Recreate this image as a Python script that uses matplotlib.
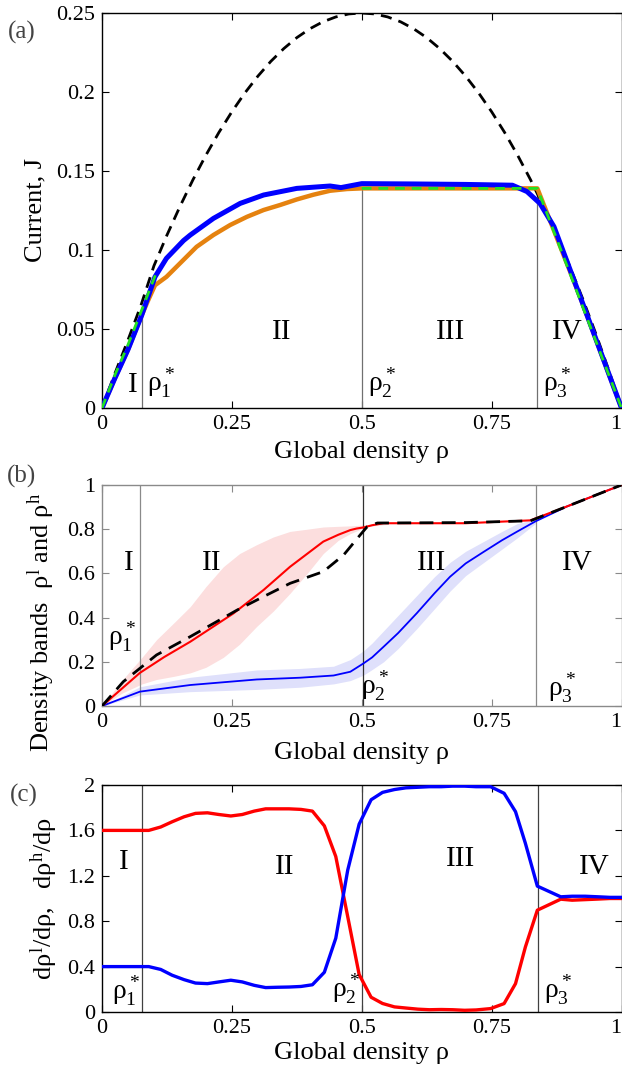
import numpy as np
import matplotlib
matplotlib.use("Agg")
import matplotlib.pyplot as plt

plt.rcParams['font.family'] = ['Liberation Serif', 'DejaVu Serif']
plt.rcParams['mathtext.fontset'] = 'custom'
plt.rcParams['mathtext.rm'] = 'Liberation Serif'
plt.rcParams['mathtext.it'] = 'Liberation Serif'
plt.rcParams['mathtext.bf'] = 'Liberation Serif:bold'

# ---------------- (a) current vs global density ----------------
rho_mf = [0.0, 0.025, 0.05, 0.075, 0.1, 0.125, 0.15, 0.175, 0.2, 0.225, 0.25, 0.275,
          0.3, 0.325, 0.35, 0.375, 0.4, 0.425, 0.45, 0.475, 0.5, 0.525, 0.55, 0.575,
          0.6, 0.625, 0.65, 0.675, 0.7, 0.725, 0.75, 0.775, 0.8, 0.825, 0.85, 0.875,
          0.9, 0.925, 0.95, 0.975, 1.0]
J_mf = [0.0, 0.022, 0.043, 0.065, 0.09, 0.1094, 0.1275, 0.1444, 0.16, 0.1744, 0.1875,
        0.1994, 0.21, 0.2194, 0.2275, 0.2344, 0.24, 0.2444, 0.2475, 0.2494, 0.25,
        0.2494, 0.2475, 0.2444, 0.24, 0.2344, 0.2275, 0.2194, 0.21, 0.1994, 0.1875,
        0.1744, 0.16, 0.1444, 0.1275, 0.1094, 0.09, 0.0694, 0.0475, 0.0244, 0.0]

rho_sim = [0.0, 0.025, 0.05, 0.0764, 0.09, 0.102, 0.124, 0.153, 0.182, 0.2145, 0.2466,
           0.279, 0.311, 0.343, 0.375, 0.407, 0.439, 0.4715, 0.5, 0.6, 0.7, 0.8, 0.838,
           0.92, 1.0]
J_sim = [0.0, 0.019, 0.037, 0.0587, 0.069, 0.0777, 0.083, 0.0925, 0.102, 0.1095, 0.1158,
         0.121, 0.1253, 0.1285, 0.132, 0.135, 0.1375, 0.1386, 0.139, 0.139, 0.139, 0.139,
         0.139, 0.0705, 0.0]

rho_mc = [0.0, 0.025, 0.05, 0.0764, 0.102, 0.124, 0.157, 0.17, 0.2145, 0.266, 0.311,
          0.375, 0.439, 0.46, 0.5, 0.6, 0.7, 0.79, 0.818, 0.843, 0.87, 0.921, 1.0]
J_mc = [0.0, 0.019, 0.037, 0.0587, 0.083, 0.0947, 0.106, 0.1095, 0.12, 0.1295, 0.1348,
        0.139, 0.1405, 0.1395, 0.142, 0.1418, 0.1415, 0.141, 0.137, 0.1295, 0.1148,
        0.0700, 0.0]

rho_th = [0.0, 0.025, 0.05, 0.0764, 0.105, np.nan, 0.5, 0.838, 1.0]
J_th = [0.0, 0.021, 0.040, 0.062, 0.086, np.nan, 0.139, 0.139, 0.0]

rho_star = [0.0764, 0.5, 0.838]
J_star = [0.0587, 0.139, 0.139]

# ---------------- (b) density bands ----------------
rho_hi = [0.0, 0.073, 0.12, 0.17, 0.253, 0.311, 0.362, 0.426, 0.455, 0.478, 0.49,
          0.5035, 0.52, 0.542, 0.7, 0.8247, 0.895, 1.0]
rho_h_line = [0.0, 0.15, 0.222, 0.291, 0.419, 0.525, 0.63, 0.744, 0.775, 0.796, 0.803,
              0.808, 0.818, 0.827, 0.827, 0.84, 0.903, 1.0]

rho_band_h = [0.0, 0.04, 0.077, 0.105, 0.14, 0.17, 0.2, 0.2335, 0.265, 0.2977, 0.33,
              0.362, 0.395, 0.426, 0.455, 0.478, 0.51, 0.55]
h_band_lo = [0.0, 0.06, 0.10, 0.12, 0.135, 0.15, 0.175, 0.22, 0.28, 0.36, 0.43, 0.51,
             0.60, 0.69, 0.75, 0.78, 0.812, 0.822]
h_band_hi = [0.0, 0.12, 0.22, 0.30, 0.38, 0.45, 0.54, 0.63, 0.69, 0.73, 0.765, 0.79,
             0.80, 0.81, 0.813, 0.815, 0.82, 0.826]

rho_lo = [0.0, 0.073, 0.17, 0.2977, 0.3815, 0.4457, 0.478, 0.5035, 0.52, 0.542, 0.57,
          0.606, 0.64, 0.67, 0.70, 0.735, 0.77, 0.799, 0.834, 0.895, 1.0]
rho_l_line = [0.0, 0.065, 0.095, 0.12, 0.128, 0.138, 0.155, 0.193, 0.22, 0.268, 0.33,
              0.42, 0.51, 0.585, 0.645, 0.698, 0.75, 0.789, 0.835, 0.903, 1.0]

rho_band_l = [0.0, 0.073, 0.17, 0.2977, 0.3815, 0.4457, 0.478, 0.5035, 0.52, 0.542,
              0.57, 0.606, 0.64, 0.67, 0.70, 0.735, 0.77, 0.799, 0.834]
l_band_lo = [0.0, 0.05, 0.065, 0.075, 0.085, 0.10, 0.115, 0.14, 0.165, 0.20, 0.26,
             0.35, 0.44, 0.52, 0.59, 0.65, 0.71, 0.76, 0.825]
l_band_hi = [0.0, 0.087, 0.13, 0.163, 0.17, 0.18, 0.21, 0.25, 0.285, 0.34, 0.41, 0.50,
             0.585, 0.65, 0.70, 0.745, 0.79, 0.825, 0.845]

rho_avg = [0.0, 0.041, 0.105, 0.17, 0.26, 0.311, 0.362, 0.426, 0.465, 0.497, 0.51,
           0.53, 0.7, 0.8247, 0.895, 1.0]
avg_line = [0.0, 0.11, 0.231, 0.314, 0.434, 0.495, 0.555, 0.608, 0.683, 0.774, 0.81,
            0.828, 0.83, 0.838, 0.903, 1.0]

rho_star_b = [0.073, 0.502, 0.835]

# ---------------- (c) slopes of the bands ----------------
rho_c = [0.0, 0.045, 0.09, 0.113, 0.135, 0.158, 0.18, 0.203, 0.225, 0.248, 0.27, 0.293,
         0.315, 0.338, 0.36, 0.383, 0.405, 0.428, 0.45, 0.473, 0.495, 0.518, 0.54,
         0.563, 0.585, 0.608, 0.63, 0.653, 0.675, 0.698, 0.72, 0.748, 0.774, 0.796,
         0.815, 0.838, 0.883, 0.905, 0.93, 0.955, 0.978, 1.0]
dh_drho = [1.6, 1.6, 1.6, 1.63, 1.676, 1.72, 1.75, 1.755, 1.74, 1.727, 1.74, 1.77, 1.79,
           1.79, 1.79, 1.785, 1.77, 1.64, 1.37, 0.84, 0.33, 0.13, 0.075, 0.045, 0.035,
           0.025, 0.02, 0.022, 0.02, 0.015, 0.018, 0.03, 0.074, 0.25, 0.573, 0.897,
           0.994, 0.985, 0.99, 0.995, 1.0, 1.0]
dl_drho = [0.4, 0.4, 0.4, 0.375, 0.324, 0.285, 0.255, 0.25, 0.265, 0.28, 0.265, 0.235,
           0.215, 0.218, 0.22, 0.225, 0.24, 0.35, 0.65, 1.25, 1.655, 1.87, 1.935, 1.96,
           1.975, 1.98, 1.985, 1.985, 1.99, 1.99, 1.985, 1.985, 1.927, 1.765, 1.486,
           1.109, 1.015, 1.02, 1.02, 1.015, 1.01, 1.01]
rho_star_c = [0.077, 0.5, 0.84]

region_names = ['I', 'II', 'III', 'IV']
star_labels = [r'$\rho_1^*$', r'$\rho_2^*$', r'$\rho_3^*$']
xticks = [0, 0.25, 0.5, 0.75, 1]
xticklabels = ['0', '0.25', '0.5', '0.75', '1']

W, H = 622, 1070
fig = plt.figure(figsize=(W / 100, H / 100), dpi=100)


def box(top, bottom, left=102, right=621.5):
    return [left / W, 1 - bottom / H, (right - left) / W, (bottom - top) / H]


TICK_FS = 16
LAB_FS = 19
ROM_FS = 21
STAR_FS = 20
PANEL_FS = 18

BLUE = '#0000ff'
RED = '#ff0000'
ORANGE = '#e5820f'
GREEN = '#22e022'


def style_axes(ax, spine_color='black'):
    ax.set_xlim(0, 1)
    ax.set_xticks(xticks)
    ax.set_xticklabels(xticklabels)
    ax.tick_params(direction='in', top=True, right=True, length=5, width=0.8,
                   labelsize=TICK_FS, color=spine_color, pad=5)
    # keep the last x tick label inside the figure edge
    ax.get_xticklabels()[-1].set_ha('right')
    for s in ax.spines.values():
        s.set_color(spine_color)
        s.set_linewidth(1.0)


def labels(ax, ylab, ylab_x, ylab_y, xlab_y):
    yl = ax.set_ylabel(ylab, fontsize=LAB_FS)
    yl.set_va('center')
    ax.yaxis.set_label_coords(ylab_x, ylab_y)
    xl = ax.set_xlabel('Global density ρ', fontsize=LAB_FS)
    xl.set_va('center')
    ax.xaxis.set_label_coords(0.5, xlab_y)


# ---- panel (a)
axa = fig.add_axes(box(13, 408))
style_axes(axa)
axa.set_ylim(0, 0.25)
axa.set_yticks([0, 0.05, 0.1, 0.15, 0.2, 0.25])
axa.set_yticklabels(['0', '0.05', '0.1', '0.15', '0.2', '0.25'])
axa.plot(rho_mf, J_mf, color='black', lw=2.0, dashes=(4, 2.6), zorder=3)
axa.vlines(rho_star, 0, J_star, color='#707070', lw=0.9, zorder=2)
axa.plot(rho_sim, J_sim, color=ORANGE, lw=3.2, zorder=4, solid_capstyle='butt')
axa.plot(rho_mc, J_mc, color=BLUE, lw=3.6, zorder=5)
axa.plot(rho_th, J_th, color=GREEN, lw=2.0, dashes=(3.5, 2.5), zorder=6)
labels(axa, 'Current, J', (35 - 102) / 519.5, 0.5, -44 / 395)
for x, t in zip([0.06, 0.345, 0.671, 0.896], region_names):
    y = 0.0146 if t == 'I' else 0.048
    axa.text(x, y, t, fontsize=ROM_FS, ha='center', va='center')
for x, t in zip([0.075 + 0.039, 0.5 + 0.039, 0.838 + 0.039], star_labels):
    axa.text(x, 0.0155, t, fontsize=STAR_FS, ha='center', va='center')
fig.text(22 / W, 1 - 32 / H, '(a)', fontsize=PANEL_FS, ha='center', va='center',
         color='#444444')

# ---- panel (b)
GRAY = '#8a8a8a'
axb = fig.add_axes(box(485, 706))
style_axes(axb, spine_color=GRAY)
axb.set_ylim(0, 1)
axb.set_yticks([0, 0.2, 0.4, 0.6, 0.8, 1])
axb.set_yticklabels(['0', '0.2', '0.4', '0.6', '0.8', '1'])
axb.fill_between(rho_band_h, h_band_lo, h_band_hi, color='#fcdede', lw=0, zorder=1)
axb.fill_between(rho_band_l, l_band_lo, l_band_hi, color='#dfe0fb', lw=0, zorder=1)
axb.axvline(rho_star_b[0], color=GRAY, lw=0.9, zorder=2)
axb.axvline(rho_star_b[1], color='#303030', lw=0.9, zorder=2)
axb.axvline(rho_star_b[2], color=GRAY, lw=0.9, zorder=2)
axb.plot(rho_lo, rho_l_line, color=BLUE, lw=1.3, zorder=3)
axb.plot(rho_hi, rho_h_line, color=RED, lw=1.5, zorder=4)
axb.plot(rho_avg, avg_line, color='black', lw=2.0, dashes=(5, 3), zorder=5)
labels(axb, r'Density bands  $\rho^{l}$ and $\rho^{h}$', (41 - 102) / 519.5,
       (706 - 622) / 221, -47 / 221)
for x, t in zip([0.052, 0.211, 0.635, 0.915], region_names):
    axb.text(x, 0.645, t, fontsize=ROM_FS, ha='center', va='center')
for x, y, t in zip([0.04, 0.526, 0.886], [0.31, 0.09, 0.08], star_labels):
    axb.text(x, y, t, fontsize=STAR_FS, ha='center', va='center')
fig.text(22 / W, 1 - 476 / H, '(b)', fontsize=PANEL_FS, ha='center', va='center',
         color='#444444')

# ---- panel (c)
axc = fig.add_axes(box(785, 1012))
style_axes(axc)
axc.set_ylim(0, 2)
axc.set_yticks([0, 0.4, 0.8, 1.2, 1.6, 2])
axc.set_yticklabels(['0', '0.4', '0.8', '1.2', '1.6', '2'])
for x in rho_star_c:
    axc.axvline(x, color='#404040', lw=0.9, zorder=2)
axc.plot(rho_c, dh_drho, color=RED, lw=2.4, zorder=3)
axc.plot(rho_c, dl_drho, color=BLUE, lw=2.4, zorder=4)
labels(axc, r'$d\rho^{l}/d\rho,\ \ d\rho^{h}/d\rho$', (44 - 102) / 519.5, 0.5, -41 / 227)
for x, y, t in zip([0.042, 0.351, 0.691, 0.947], [1.32, 1.28, 1.35, 1.28], region_names):
    axc.text(x, y, t, fontsize=ROM_FS, ha='center', va='center')
for x, y, t in zip([0.046, 0.47, 0.878], [0.18, 0.2, 0.19], star_labels):
    axc.text(x, y, t, fontsize=STAR_FS, ha='center', va='center')
fig.text(24 / W, 1 - 795 / H, '(c)', fontsize=PANEL_FS, ha='center', va='center',
         color='#444444')

fig.savefig('out.png', dpi=100)
